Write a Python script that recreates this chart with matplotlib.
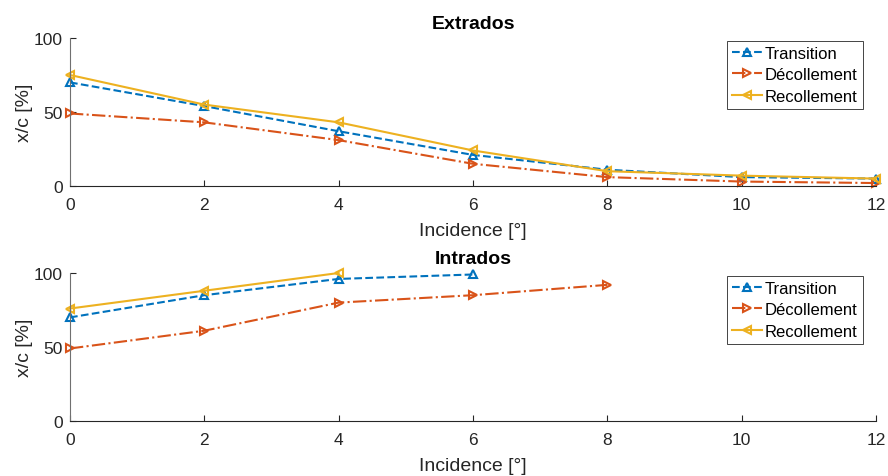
import matplotlib
matplotlib.use("Agg")
import matplotlib.pyplot as plt

plt.rcParams['font.family'] = ['Liberation Sans', 'DejaVu Sans']

incidence = [0, 2, 4, 6, 8, 10, 12]
ext_transition = [70, 54, 37, 21, 11, 6, 5]
ext_decollement = [49, 43, 31, 15, 6, 3, 2]
ext_recollement = [75, 55, 43, 24, 10, 7, 5]

int_inc_transition = [0, 2, 4, 6]
int_transition = [70, 85, 96, 99]
int_inc_decollement = [0, 2, 4, 6, 8]
int_decollement = [49, 61, 80, 85, 92]
int_inc_recollement = [0, 2, 4]
int_recollement = [76, 88, 100]

labels = ['Transition', 'Décollement', 'Recollement']
colors = ['#0072BD', '#D95319', '#EDB120']
xticks = [0, 2, 4, 6, 8, 10, 12]
yticks = [0, 50, 100]

fig = plt.figure(figsize=(8.88, 4.77), dpi=100)
ax1 = fig.add_axes([70/888, 1-187/477, 806/888, 148/477])
ax2 = fig.add_axes([70/888, 1-422/477, 806/888, 148/477])

def style(ax, title):
    ax.set_xlim(0, 12)
    ax.set_ylim(0, 100)
    ax.set_xticks(xticks)
    ax.set_yticks(yticks)
    for s in ['top', 'right']:
        ax.spines[s].set_visible(False)
    for s in ['left', 'bottom']:
        ax.spines[s].set_color('#262626')
        ax.spines[s].set_linewidth(0.8)
    ax.spines['left'].set_color('#707070')
    ax.tick_params(direction='in', length=4, width=0.8, colors='#262626', labelsize=12.5)
    ax.tick_params(axis='x', pad=8)
    ax.tick_params(axis='y', pad=5)
    ax.set_xlabel('Incidence [°]', fontsize=14, color='#262626', labelpad=7)
    ax.set_ylabel('x/c [%]', fontsize=14, color='#262626', labelpad=1)
    ax.set_title(title, fontsize=14, fontweight='bold', color='black', pad=7)
    for lab in ax.get_xticklabels() + ax.get_yticklabels():
        lab.set_color('#262626')
    leg = ax.legend(loc='upper right', bbox_to_anchor=(0.9835, 0.98), fontsize=12, handlelength=1.8,
                    handletextpad=0.15, borderpad=0.3, labelspacing=0.38, fancybox=False, framealpha=1,
                    borderaxespad=0.0)
    leg.get_frame().set_edgecolor('#262626')
    leg.get_frame().set_linewidth(0.6)

kw = dict(lw=1.5, ms=5.5, mfc='none', mew=1.5, clip_on=False)
ax1.plot(incidence, ext_transition, '--^', color=colors[0], label=labels[0], **kw)
ax1.plot(incidence, ext_decollement, '-.>', color=colors[1], label=labels[1], **kw)
ax1.plot(incidence, ext_recollement, '-<', color=colors[2], label=labels[2], **kw)
style(ax1, 'Extrados')

ax2.plot(int_inc_transition, int_transition, '--^', color=colors[0], label=labels[0], **kw)
ax2.plot(int_inc_decollement, int_decollement, '-.>', color=colors[1], label=labels[1], **kw)
ax2.plot(int_inc_recollement, int_recollement, '-<', color=colors[2], label=labels[2], **kw)
style(ax2, 'Intrados')

fig.savefig('out.png', dpi=100)
